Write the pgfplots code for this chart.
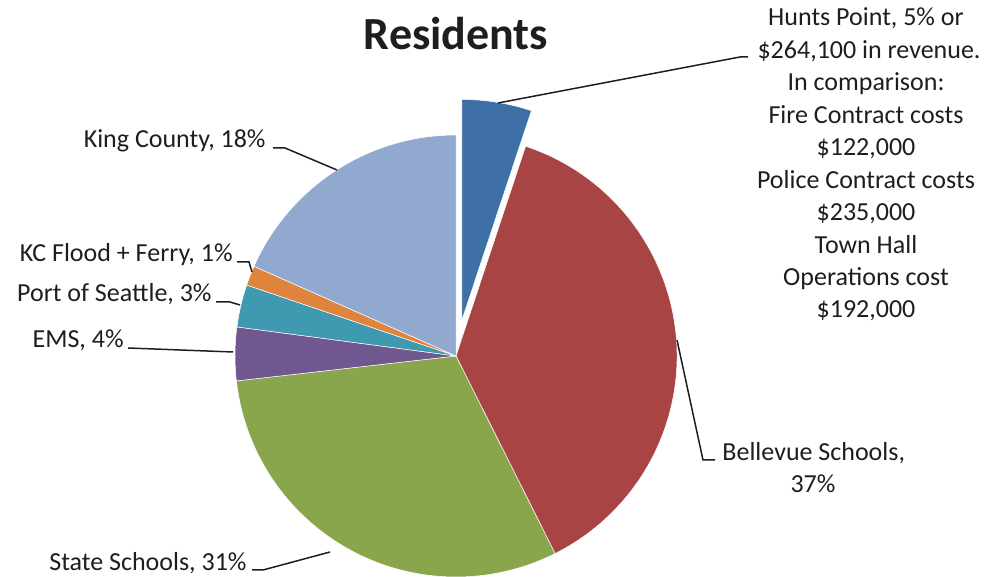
\documentclass[border=0pt]{standalone}
\usepackage{pgfplots}
\usepackage{pgfplotstable}
\pgfplotsset{compat=1.18}
\usepackage{fontspec}
\setmainfont{Carlito}
\definecolor{cHP}{HTML}{3E6FA6}
\definecolor{cBS}{HTML}{A84544}
\definecolor{cSS}{HTML}{8AA64C}
\definecolor{cEMS}{HTML}{71578F}
\definecolor{cPort}{HTML}{3F99B0}
\definecolor{cKC}{HTML}{DE843C}
\definecolor{cKing}{HTML}{92A9CF}
\definecolor{txt}{HTML}{1E1E1E}

% share of property taxes (percent), clockwise from 12 o'clock
\pgfplotstableread{
name value color
HuntsPoint 5.1 cHP
Bellevue 37.5 cBS
State 30.6 cSS
EMS 3.9 cEMS
Port 3.1 cPort
KCFlood 1.45 cKC
King 18.35 cKing
}\piedata

\begin{document}
\begin{tikzpicture}[font=\fontsize{13}{16.2}\selectfont]
\useasboundingbox (0,0) rectangle (492pt,288.5pt);
\begin{axis}[x=0.5pt,y=0.5pt,xmin=0,xmax=984,ymin=0,ymax=577,
  hide axis, clip=false, anchor=south west, at={(0,0)}]
\addplot[draw=none] coordinates {(0,0) (984,577)};
\pgfmathsetmacro\cum{0}
\pgfplotsforeachungrouped \i in {0,...,6}{%
  \pgfplotstablegetelem{\i}{value}\of\piedata \let\val\pgfplotsretval
  \pgfplotstablegetelem{\i}{color}\of\piedata \let\col\pgfplotsretval
  \pgfmathsetmacro\astart{90-3.6*\cum}%
  \pgfmathsetmacro\aend{90-3.6*(\cum+\val)}%
  \pgfmathsetmacro\amid{(\astart+\aend)/2}%
  \ifnum\i=0 \def\off{18pt}\else\def\off{0pt}\fi
  \edef\cmd{\noexpand\fill[\col, draw=white, line width=0.25pt,
     shift={(axis cs:456,221)}, shift={(\amid:\off)}]
     (0,0) -- (\astart:110.5pt) arc[start angle=\astart, end angle=\aend, radius=110.5pt] -- cycle;}%
  \cmd
  \pgfmathsetmacro\cum{\cum+\val}%
}
% leader lines
\draw[txt, line width=0.75pt] (axis cs:498,474) -- (axis cs:740,520) -- (axis cs:748,520);
\draw[txt, line width=0.75pt] (axis cs:273,429) -- (axis cs:285,429) -- (axis cs:337,407);
\draw[txt, line width=0.75pt] (axis cs:237,315) -- (axis cs:249,315) -- (axis cs:252,305);
\draw[txt, line width=0.75pt] (axis cs:216,275) -- (axis cs:230,275) -- (axis cs:240,272);
\draw[txt, line width=0.75pt] (axis cs:128,229) -- (axis cs:233,225);
\draw[txt, line width=0.75pt] (axis cs:252,7) -- (axis cs:263,7) -- (axis cs:330,25);
\draw[txt, line width=0.75pt] (axis cs:677,237) -- (axis cs:703,117) -- (axis cs:715,117);
% labels
\node[txt, anchor=base east, inner sep=0pt] at (axis cs:266,429) {King County, 18\%};
\node[txt, anchor=base east, inner sep=0pt] at (axis cs:233,315) {KC Flood + Ferry, 1\%};
\node[txt, anchor=base east, inner sep=0pt] at (axis cs:212,275) {Port of Seattle, 3\%};
\node[txt, anchor=base east, inner sep=0pt] at (axis cs:124,229) {EMS, 4\%};
\node[txt, anchor=base east, inner sep=0pt] at (axis cs:247,6) {State Schools, 31\%};
\node[txt, anchor=base west, inner sep=0pt] at (axis cs:722,116) {Bellevue Schools,};
\node[txt, anchor=base, inner sep=0pt] at (axis cs:813,84) {37\%};
\node[txt, anchor=base, inner sep=0pt] at (axis cs:866,551) {Hunts Point, 5\% or};
\node[txt, anchor=base, inner sep=0pt] at (axis cs:869,518.6) {\$264,100 in revenue.};
\node[txt, anchor=base, inner sep=0pt] at (axis cs:866,486.1) {In comparison:};
\node[txt, anchor=base, inner sep=0pt] at (axis cs:866,453.7) {Fire Contract costs};
\node[txt, anchor=base, inner sep=0pt] at (axis cs:866,421.2) {\$122,000};
\node[txt, anchor=base, inner sep=0pt] at (axis cs:866,388.8) {Police Contract costs};
\node[txt, anchor=base, inner sep=0pt] at (axis cs:866,356.3) {\$235,000};
\node[txt, anchor=base, inner sep=0pt] at (axis cs:866,323.9) {Town Hall};
\node[txt, anchor=base, inner sep=0pt] at (axis cs:866,291.4) {Operations cost};
\node[txt, anchor=base, inner sep=0pt] at (axis cs:866,259) {\$192,000};
% title (first line cropped off in the reference)
\node[txt, anchor=base, inner sep=0pt, font=\fontsize{23}{27}\selectfont\bfseries] at (axis cs:456,527) {Residents};
\end{axis}
\end{tikzpicture}
\end{document}
